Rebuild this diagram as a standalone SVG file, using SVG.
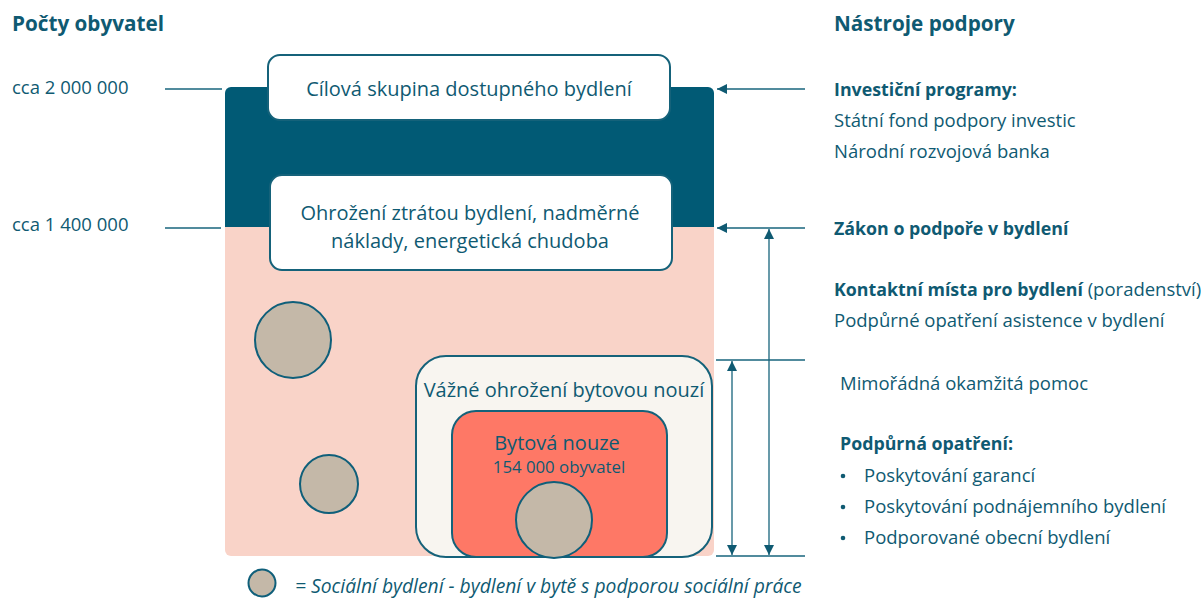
<svg xmlns="http://www.w3.org/2000/svg" width="1201" height="599" viewBox="0 0 1201 599">
<defs>
<style>
text{font-family:"Open Sans","Liberation Sans",sans-serif;fill:#0f5a72}
.t{font-size:18.5px}
.b{font-weight:bold;font-size:17.8px}
.bx{font-size:20px}
.box{fill:#fff;stroke:#15627a;stroke-width:2}
.soc{fill:#c4b8a8;stroke:#0f5f7a;stroke-width:2}
.ln{stroke:#17647c;stroke-width:1.3;fill:none}
</style>
<marker id="ah" viewBox="0 0 10 10" refX="10" refY="5" markerWidth="10" markerHeight="10" markerUnits="userSpaceOnUse" orient="auto-start-reverse">
<path d="M0,0 L10,5 L0,10 z" fill="#0f5a72"/>
</marker>
</defs>
<rect width="1201" height="599" fill="#fff"/>

<g id="headers">
<text x="12" y="31" style="font-weight:bold;font-size:20.7px">Počty obyvatel</text>
<text x="834" y="31" style="font-weight:bold;font-size:20.7px">Nástroje podpory</text>
</g>

<g id="counts">
<text x="12" y="94" class="t">cca 2 000 000</text>
<text x="12" y="231" class="t">cca 1 400 000</text>
</g>

<g id="base">
<path d="M231,87 H708 a6,6 0 0 1 6,6 V227 H225 V93 a6,6 0 0 1 6,-6 z" fill="#015a75"/>
<path d="M225,227 H714 V550 a6,6 0 0 1 -6,6 H231 a6,6 0 0 1 -6,-6 z" fill="#f9d3c8"/>
</g>

<g id="node-cilova">
<rect x="268" y="55" width="402" height="65" rx="12" class="box"/>
<text x="469" y="96" text-anchor="middle" class="bx">Cílová skupina dostupného bydlení</text>
</g>

<g id="node-ohrozeni">
<rect x="270" y="175" width="402" height="95" rx="12" class="box"/>
<text x="470" y="220" text-anchor="middle" class="bx">Ohrožení ztrátou bydlení, nadměrné</text>
<text x="470" y="248" text-anchor="middle" class="bx">náklady, energetická chudoba</text>
</g>

<g id="node-soc1"><circle cx="293" cy="340" r="38" class="soc"/></g>
<g id="node-soc2"><circle cx="329" cy="484" r="29" class="soc"/></g>

<g id="node-vazne">
<rect x="416" y="356" width="296" height="201" rx="30" fill="#f8f5f0" stroke="#15627a" stroke-width="2"/>
<text x="564" y="397" text-anchor="middle" class="bx">Vážné ohrožení bytovou nouzí</text>
</g>

<g id="node-nouze">
<rect x="452" y="411" width="215" height="146" rx="24" fill="#fe7866" stroke="#15627a" stroke-width="2"/>
<text x="557" y="450" text-anchor="middle" class="bx">Bytová nouze</text>
<text x="559" y="473" text-anchor="middle" style="font-size:16.8px">154 000 obyvatel</text>
</g>

<g id="node-soc3"><circle cx="554" cy="520" r="38" class="soc"/></g>

<g id="connectors">
<line x1="165" y1="89" x2="222" y2="89" class="ln"/>
<line x1="165" y1="228" x2="221" y2="228" class="ln"/>
<line x1="805" y1="89" x2="717" y2="89" class="ln" marker-end="url(#ah)"/>
<line x1="805" y1="228" x2="717" y2="228" class="ln" marker-end="url(#ah)"/>
<line x1="716" y1="360" x2="805" y2="360" class="ln"/>
<line x1="716" y1="556" x2="805" y2="556" class="ln"/>
<line x1="769" y1="229" x2="769" y2="555" class="ln" marker-start="url(#ah)" marker-end="url(#ah)"/>
<line x1="732" y1="361" x2="732" y2="555" class="ln" marker-start="url(#ah)" marker-end="url(#ah)"/>
</g>

<g id="tools">
<text x="834" y="96" class="b">Investiční programy:</text>
<text x="834" y="127" class="t">Státní fond podpory investic</text>
<text x="834" y="158" class="t">Národní rozvojová banka</text>
<text x="834" y="235" class="b">Zákon o podpoře v bydlení</text>
<text x="834" y="296" class="t"><tspan class="b">Kontaktní místa pro bydlení</tspan> (poradenství)</text>
<text x="834" y="327" class="t">Podpůrné opatření asistence v bydlení</text>
<text x="840" y="390" class="t">Mimořádná okamžitá pomoc</text>
<text x="840" y="450" class="b">Podpůrná opatření:</text>
<circle cx="843" cy="476" r="2.3" fill="#0f5a72"/>
<circle cx="843" cy="507" r="2.3" fill="#0f5a72"/>
<circle cx="843" cy="538" r="2.3" fill="#0f5a72"/>
<text x="864" y="482" class="t">Poskytování garancí</text>
<text x="864" y="513" class="t">Poskytování podnájemního bydlení</text>
<text x="864" y="544" class="t">Podporované obecní bydlení</text>
</g>

<g id="legend">
<circle cx="262" cy="583" r="13.5" class="soc"/>
<text x="295" y="593" style="font-size:19.3px;font-style:italic">= Sociální bydlení - bydlení v bytě s podporou sociální práce</text>
</g>
</svg>
